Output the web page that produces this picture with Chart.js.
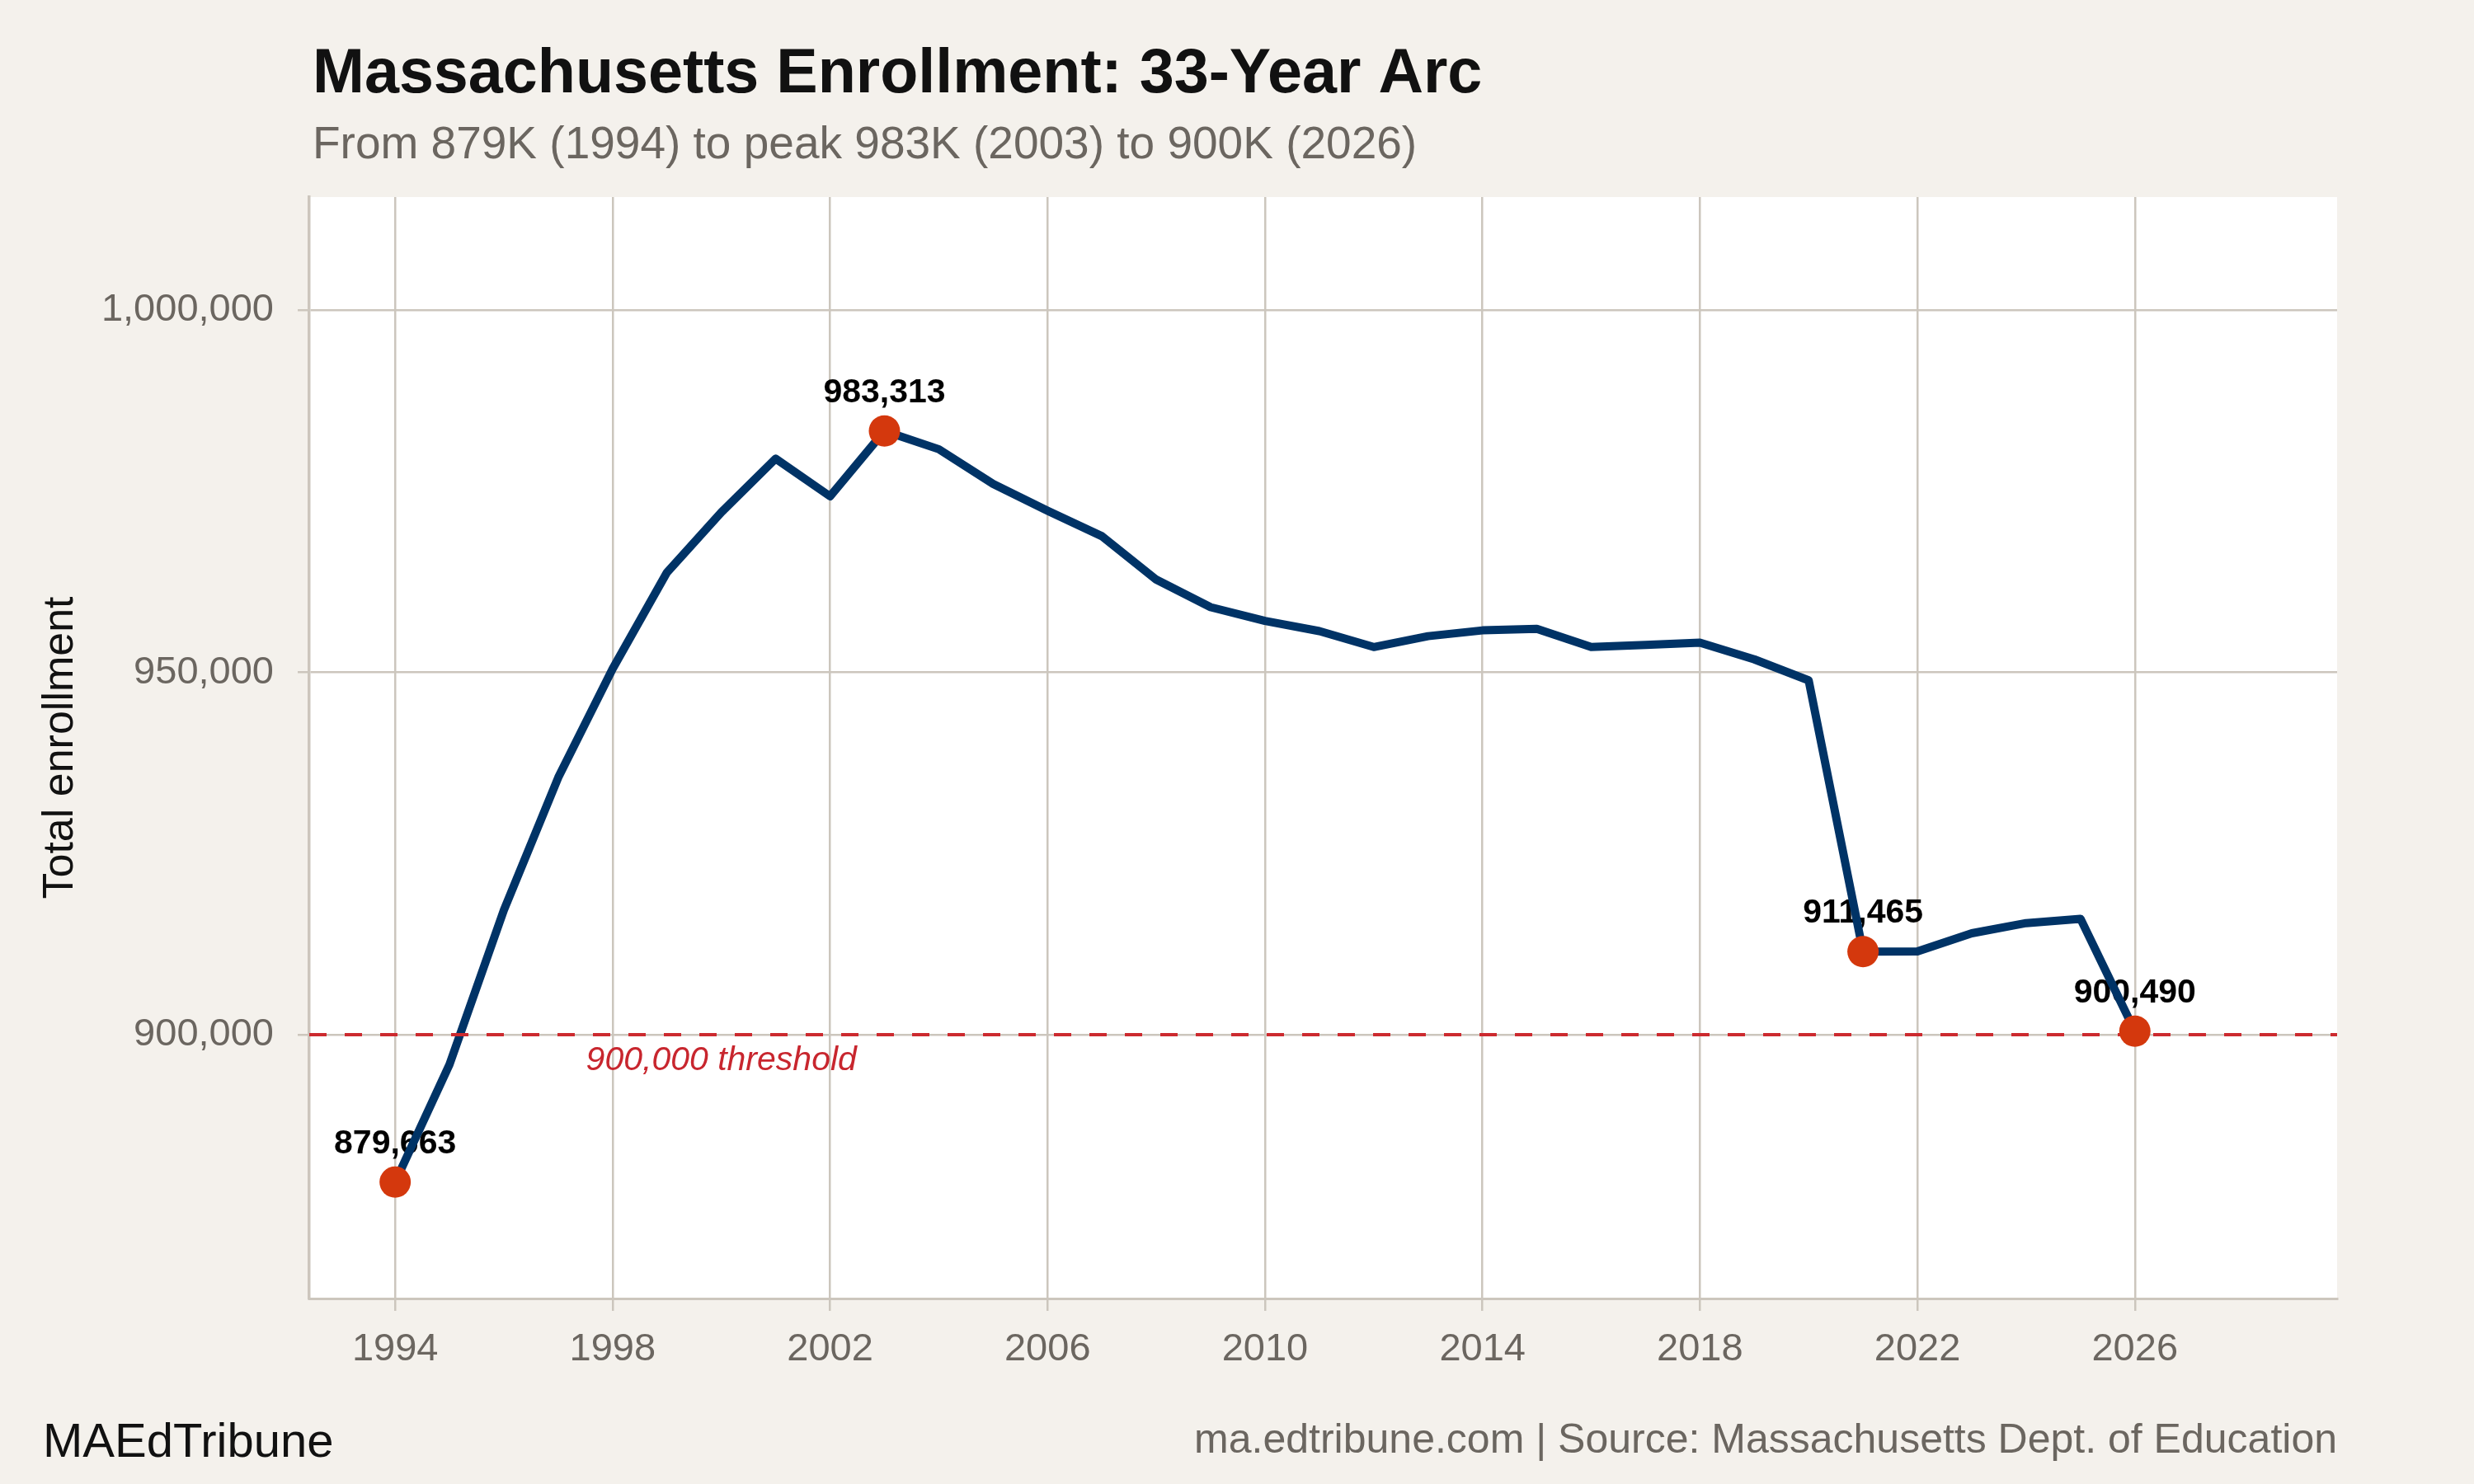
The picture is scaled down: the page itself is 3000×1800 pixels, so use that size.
<!DOCTYPE html>
<html>
<head>
<meta charset="utf-8">
<script src="https://cdn.jsdelivr.net/npm/chart.js@4/dist/chart.umd.min.js"></script>
<style>
  html, body { margin: 0; padding: 0; background: #f4f1ec; }
  #wrap { width: 3000px; height: 1800px; }
</style>
</head>
<body>
<div id="wrap"><canvas id="myChart" width="3000" height="1800"></canvas></div>
<script>
const years = [
  1994, 1995, 1996, 1997, 1998, 1999, 2000, 2001, 2002, 2003, 2004,
  2005, 2006, 2007, 2008, 2009, 2010, 2011, 2012, 2013, 2014, 2015,
  2016, 2017, 2018, 2019, 2020, 2021, 2022, 2023, 2024, 2025, 2026
];
const enrollment = [
  879663, 895900, 917200, 935500, 950500, 963800, 972100, 979500, 974300, 983313, 980800,
  976000, 972300, 968800, 962800, 959000, 957100, 955700, 953500, 955000, 955800, 956000,
  953500, 953800, 954100, 951800, 948900, 911465, 911500, 914000, 915400, 916000, 900490
];
const highlightYears = [1994, 2003, 2021, 2026];
const highlightValues = [879663, 983313, 911465, 900490];
const xTicks = [1994, 1998, 2002, 2006, 2010, 2014, 2018, 2022, 2026];
const yTicks = [900000, 950000, 1000000];
const threshold = 900000;
const thresholdLabel = "900,000 threshold";
const thresholdLabelYear = 2000;

const FONT = "'Liberation Sans', Arial, Helvetica, sans-serif";
const GRID = "#ccc6bd";
const GREY = "#6b6660";

const fmt = v => v.toLocaleString("en-US");

const bgPlugin = {
  id: "bg",
  beforeDraw(chart) {
    const { ctx, chartArea: a } = chart;
    ctx.save();
    ctx.fillStyle = "#f4f1ec";
    ctx.fillRect(0, 0, chart.width, chart.height);
    ctx.fillStyle = "#ffffff";
    ctx.fillRect(a.left, a.top, a.right - a.left, a.bottom - a.top);
    ctx.restore();
  }
};

const labelPlugin = {
  id: "labels",
  beforeDatasetsDraw(chart) {
    const { ctx, scales: { x, y } } = chart;
    ctx.save();
    ctx.fillStyle = "#000000";
    ctx.font = "bold 41px " + FONT;
    ctx.textAlign = "center";
    ctx.textBaseline = "alphabetic";
    highlightYears.forEach((yr, i) => {
      ctx.fillText(fmt(highlightValues[i]), x.getPixelForValue(yr), y.getPixelForValue(highlightValues[i]) - 35);
    });
    ctx.fillStyle = "#c8262e";
    ctx.font = "italic 41px " + FONT;
    ctx.fillText(thresholdLabel, x.getPixelForValue(thresholdLabelYear), y.getPixelForValue(threshold) + 43);
    ctx.restore();
  },
  afterDatasetDraw(chart, args) {
    if (args.index !== 0) return;
    const { ctx, chartArea: a, scales: { y } } = chart;
    const py = y.getPixelForValue(threshold);
    ctx.save();
    ctx.strokeStyle = "#cc2a2f";
    ctx.lineWidth = 4;
    ctx.setLineDash([21, 22]);
    ctx.beginPath();
    ctx.moveTo(a.left, py);
    ctx.lineTo(a.right, py);
    ctx.stroke();
    ctx.restore();
  }
};

const textPlugin = {
  id: "texts",
  afterDraw(chart) {
    const { ctx, chartArea: a } = chart;
    ctx.save();
    ctx.textBaseline = "alphabetic";
    ctx.textAlign = "left";
    ctx.fillStyle = "#111111";
    ctx.font = "bold 75.5px " + FONT;
    ctx.fillText("Massachusetts Enrollment: 33-Year Arc", 379, 112);
    ctx.fillStyle = GREY;
    ctx.font = "55px " + FONT;
    ctx.fillText("From 879K (1994) to peak 983K (2003) to 900K (2026)", 379, 192);

    ctx.fillStyle = "#111111";
    ctx.font = "58px " + FONT;
    ctx.fillText("MAEdTribune", 52, 1767);
    ctx.fillStyle = GREY;
    ctx.font = "50px " + FONT;
    ctx.textAlign = "right";
    ctx.fillText("ma.edtribune.com | Source: Massachusetts Dept. of Education", a.right, 1762);

    ctx.translate(88, (a.top + a.bottom) / 2);
    ctx.rotate(-Math.PI / 2);
    ctx.textAlign = "center";
    ctx.fillStyle = "#111111";
    ctx.font = "52px " + FONT;
    ctx.fillText("Total enrollment", 0, 0);
    ctx.restore();
  }
};

const data = {
  datasets: [
    {
      label: "Enrollment",
      data: years.map((yr, i) => ({ x: yr, y: enrollment[i] })),
      borderColor: "#003366",
      borderWidth: 10,
      borderJoinStyle: "round",
      pointRadius: 0,
      tension: 0,
      order: 1
    },
    {
      label: "Highlights",
      data: highlightYears.map((yr, i) => ({ x: yr, y: highlightValues[i] })),
      showLine: false,
      pointRadius: 19,
      pointBackgroundColor: "#d4380d",
      pointBorderWidth: 0,
      order: 0
    }
  ]
};

const config = {
  type: "line",
  data: data,
  options: {
    responsive: false,
    animation: false,
    devicePixelRatio: 1,
    events: [],
    layout: { padding: { left: 0, top: 239, right: 166, bottom: 0 } },
    plugins: { legend: { display: false }, tooltip: { enabled: false } },
    scales: {
      x: {
        type: "linear",
        min: 1992.42,
        max: 2029.72,
        afterFit(s) { s.height = 225; },
        afterBuildTicks(s) { s.ticks = xTicks.map(v => ({ value: v })); },
        grid: { color: GRID, lineWidth: 2.5, tickLength: 15 },
        border: { display: true, color: GRID, width: 3 },
        ticks: {
          autoSkip: false,
          maxRotation: 0,
          padding: 19,
          color: GREY,
          font: { family: FONT, size: 47 },
          callback: v => String(v)
        }
      },
      y: {
        type: "linear",
        min: 863600,
        max: 1015600,
        afterFit(s) { s.width = 375; },
        afterBuildTicks(s) { s.ticks = yTicks.map(v => ({ value: v })); },
        grid: { color: GRID, lineWidth: 2.5, tickLength: 14 },
        border: { display: true, color: GRID, width: 3.5 },
        ticks: {
          padding: 29,
          color: GREY,
          font: { family: FONT, size: 47 },
          callback: v => fmt(v)
        }
      }
    }
  },
  plugins: [bgPlugin, labelPlugin, textPlugin]
};

let myChart = new Chart(document.getElementById("myChart"), config);
</script>
</body>
</html>
